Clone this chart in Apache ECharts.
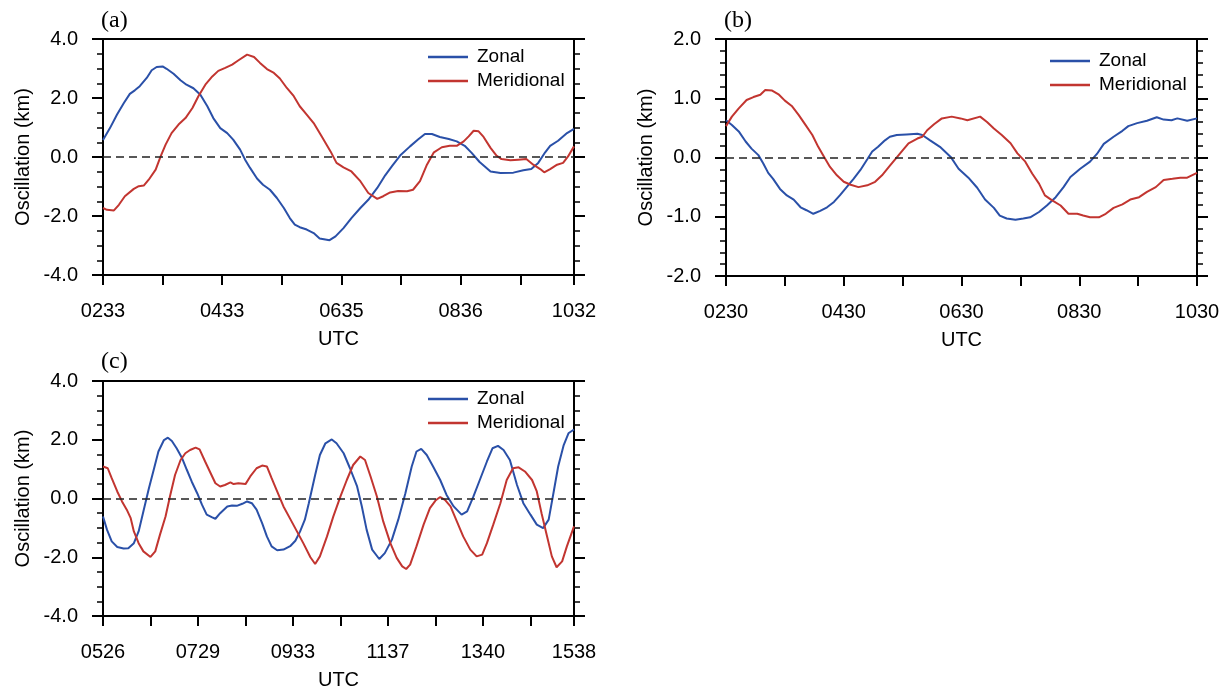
<!DOCTYPE html>
<html><head><meta charset="utf-8">
<script src="https://cdn.jsdelivr.net/npm/echarts@6/dist/echarts.min.js"></script>
<style>html,body{margin:0;padding:0;background:#fff}#c{width:1228px;height:691px}</style>
</head><body><div id="c"></div>
<script>
// ---- Panel (a) ----
const ticksA = [0,60,120,180,240,300,360,420,474];
const labelPosA = [0,120,240,360,474];
const labelTxtA = ['0233','0433','0635','0836','1032'];
const zonalA = [[0,0.58],[7,0.98],[14,1.43],[21,1.83],[27,2.14],[32,2.26],[37,2.40],[44,2.68],[49,2.94],[54,3.05],[60,3.07],[64,2.99],[71,2.82],[78,2.60],[84,2.45],[91,2.33],[98,2.11],[105,1.72],[111,1.32],[118,0.98],[125,0.81],[131,0.59],[138,0.25],[143,-0.09],[148,-0.37],[155,-0.73],[161,-0.94],[168,-1.11],[175,-1.39],[182,-1.73],[188,-2.07],[193,-2.29],[198,-2.38],[205,-2.46],[212,-2.58],[218,-2.76],[228,-2.82],[234,-2.69],[242,-2.41],[250,-2.07],[259,-1.73],[267,-1.45],[276,-1.05],[284,-0.62],[291,-0.30],[299,0.05],[309,0.36],[317,0.59],[324,0.78],[331,0.78],[339,0.68],[348,0.61],[356,0.53],[364,0.38],[371,0.14],[379,-0.17],[390,-0.49],[400,-0.54],[413,-0.53],[423,-0.45],[431,-0.41],[438,-0.20],[445,0.16],[450,0.38],[458,0.55],[467,0.81],[474,0.95]];
const meridA = [[0,-1.73],[4,-1.79],[11,-1.81],[16,-1.62],[22,-1.33],[31,-1.08],[36,-0.99],[41,-0.97],[46,-0.77],[53,-0.43],[58,0.02],[63,0.42],[69,0.81],[76,1.10],[83,1.32],[90,1.66],[96,2.06],[103,2.45],[110,2.73],[116,2.92],[123,3.02],[130,3.13],[136,3.27],[145,3.47],[152,3.39],[158,3.19],[165,2.98],[172,2.85],[178,2.66],[185,2.34],[192,2.06],[198,1.72],[205,1.44],[212,1.15],[220,0.70],[229,0.19],[235,-0.20],[242,-0.35],[250,-0.49],[259,-0.82],[267,-1.22],[276,-1.42],[282,-1.33],[289,-1.20],[297,-1.15],[306,-1.16],[312,-1.11],[319,-0.82],[326,-0.26],[333,0.16],[341,0.33],[349,0.38],[356,0.38],[363,0.53],[368,0.70],[373,0.89],[378,0.87],[383,0.68],[390,0.31],[396,0.05],[401,-0.07],[410,-0.11],[418,-0.09],[426,-0.07],[433,-0.26],[440,-0.41],[444,-0.52],[450,-0.41],[457,-0.26],[463,-0.20],[468,0.02],[474,0.36]];

// ---- Panel (b) ----
const ticksB = [0,60,120,180,240,300,360,420,480];
const labelPosB = [0,120,240,360,480];
const labelTxtB = ['0230','0430','0630','0830','1030'];
const zonalB = [[0,0.63],[6,0.55],[13,0.44],[20,0.27],[26,0.15],[33,0.04],[38,-0.10],[43,-0.26],[48,-0.36],[55,-0.53],[62,-0.64],[69,-0.71],[76,-0.84],[82,-0.89],[89,-0.95],[96,-0.90],[103,-0.84],[110,-0.75],[116,-0.64],[123,-0.50],[130,-0.36],[137,-0.21],[144,-0.03],[149,0.10],[155,0.18],[162,0.29],[167,0.35],[174,0.38],[184,0.39],[195,0.40],[200,0.38],[208,0.29],[218,0.18],[229,0.01],[237,-0.19],[247,-0.34],[256,-0.51],[264,-0.71],[273,-0.85],[279,-0.98],[286,-1.03],[295,-1.05],[303,-1.03],[310,-1.01],[319,-0.92],[327,-0.81],[336,-0.67],[344,-0.50],[351,-0.33],[361,-0.19],[371,-0.07],[378,0.06],[385,0.23],[395,0.35],[404,0.45],[410,0.53],[419,0.58],[429,0.62],[439,0.68],[446,0.64],[454,0.63],[460,0.66],[470,0.62],[480,0.66]];
const meridB = [[0,0.53],[6,0.69],[13,0.83],[21,0.97],[28,1.02],[35,1.06],[40,1.14],[47,1.13],[54,1.06],[60,0.96],[67,0.87],[74,0.72],[81,0.55],[88,0.38],[94,0.18],[100,0.01],[106,-0.16],[113,-0.30],[120,-0.41],[127,-0.46],[135,-0.50],[144,-0.47],[152,-0.41],[159,-0.30],[166,-0.16],[173,-0.02],[180,0.12],[186,0.24],[195,0.32],[200,0.35],[205,0.46],[212,0.56],[220,0.66],[230,0.69],[239,0.66],[246,0.63],[259,0.69],[266,0.60],[273,0.49],[281,0.38],[290,0.24],[297,0.07],[305,-0.07],[312,-0.27],[319,-0.44],[325,-0.64],[332,-0.72],[341,-0.81],[349,-0.95],[358,-0.95],[364,-0.98],[371,-1.01],[380,-1.01],[387,-0.95],[395,-0.85],[404,-0.79],[412,-0.71],[421,-0.67],[429,-0.58],[438,-0.50],[446,-0.38],[455,-0.36],[463,-0.34],[470,-0.34],[480,-0.26]];

// ---- Panel (c) ----
const ticksC = [0,60,120,180,240,300,360,420,480,540,595];
const labelPosC = [0,120,240,360,480,595];
const labelTxtC = ['0526','0729','0933','1137','1340','1538'];
const zonalC = [[0,-0.61],[5,-1.06],[11,-1.46],[18,-1.65],[26,-1.70],[32,-1.69],[39,-1.52],[45,-1.12],[51,-0.44],[58,0.35],[64,0.97],[70,1.60],[77,1.99],[82,2.07],[87,1.96],[93,1.71],[100,1.37],[106,0.97],[112,0.58],[119,0.18],[125,-0.21],[131,-0.55],[138,-0.64],[142,-0.69],[148,-0.50],[157,-0.27],[163,-0.24],[169,-0.25],[176,-0.18],[182,-0.10],[188,-0.16],[194,-0.38],[201,-0.84],[207,-1.29],[213,-1.63],[220,-1.76],[228,-1.74],[237,-1.61],[243,-1.44],[249,-1.12],[255,-0.72],[260,-0.16],[268,0.80],[274,1.48],[281,1.88],[289,2.01],[295,1.88],[304,1.54],[312,1.03],[321,0.41],[327,-0.27],[333,-1.06],[340,-1.74],[349,-2.06],[356,-1.86],[365,-1.40],[373,-0.72],[382,0.18],[390,1.09],[396,1.60],[402,1.69],[409,1.48],[417,1.09],[426,0.63],[434,0.12],[443,-0.27],[453,-0.55],[460,-0.44],[468,0.07],[476,0.63],[485,1.26],[492,1.71],[499,1.79],[506,1.65],[514,1.31],[523,0.46],[531,-0.16],[540,-0.55],[548,-0.89],[556,-1.01],[563,-0.72],[569,0.18],[575,1.09],[582,1.82],[588,2.22],[595,2.35]];
const meridC = [[0,1.09],[6,1.03],[11,0.69],[18,0.24],[24,-0.10],[30,-0.38],[35,-0.67],[39,-1.12],[45,-1.52],[51,-1.80],[60,-1.99],[66,-1.80],[72,-1.23],[79,-0.61],[85,0.12],[91,0.80],[98,1.31],[104,1.54],[110,1.65],[117,1.73],[122,1.67],[129,1.26],[136,0.86],[142,0.52],[148,0.41],[154,0.46],[161,0.55],[165,0.49],[171,0.52],[180,0.49],[186,0.75],[194,1.03],[201,1.12],[207,1.09],[213,0.69],[220,0.24],[228,-0.27],[237,-0.72],[245,-1.12],[253,-1.52],[262,-2.00],[268,-2.23],[274,-1.97],[283,-1.29],[291,-0.61],[300,0.07],[308,0.63],[316,1.14],[325,1.43],[331,1.31],[338,0.75],[346,0.07],[354,-0.78],[363,-1.52],[371,-2.02],[378,-2.31],[383,-2.40],[388,-2.25],[396,-1.63],[405,-0.89],[413,-0.33],[420,-0.07],[426,0.05],[432,-0.05],[439,-0.27],[447,-0.78],[455,-1.29],[464,-1.74],[472,-1.97],[479,-1.91],[485,-1.52],[493,-0.89],[502,-0.16],[510,0.63],[518,1.03],[525,1.06],[533,0.92],[542,0.63],[548,0.24],[554,-0.50],[561,-1.29],[567,-1.97],[573,-2.34],[580,-2.14],[586,-1.63],[595,-0.95]];

const panelLabels = ['(a)','(b)','(c)'];
const seriesNames = ['Zonal','Meridional'];
const yTitle = 'Oscillation (km)';
const xTitle = 'UTC';

const SANS = '"Liberation Sans", Arial, Helvetica, sans-serif';
const SERIF = '"Liberation Serif", "Times New Roman", serif';
const BLUE = '#2a50a8', RED = '#c23530';

const panels = [
  {grid:{left:103, top:39, width:471, height:236}, xmax:474, ticks:ticksA, lpos:labelPosA, ltxt:labelTxtA, ymin:-4, ymax:4, yint:2, minor:4, z:zonalA, m:meridA, legend:{left:428, top:47}, label:{left:101, top:9}},
  {grid:{left:726, top:39, width:471, height:237}, xmax:480, ticks:ticksB, lpos:labelPosB, ltxt:labelTxtB, ymin:-2, ymax:2, yint:1, minor:5, z:zonalB, m:meridB, legend:{left:1050, top:51}, label:{left:724, top:9}},
  {grid:{left:103, top:381, width:471, height:236}, xmax:595, ticks:ticksC, lpos:labelPosC, ltxt:labelTxtC, ymin:-4, ymax:4, yint:2, minor:4, z:zonalC, m:meridC, legend:{left:428, top:389}, label:{left:101, top:350}}
];

const option = {animation:false, backgroundColor:'#fff', grid:[], xAxis:[], yAxis:[], series:[], legend:[], title:[]};
const axisLine = {show:true, onZero:false, lineStyle:{color:'#000', width:2}};
panels.forEach((p, i) => {
  option.grid.push(p.grid);
  const lookup = {};
  p.lpos.forEach((v, k) => lookup[v] = p.ltxt[k]);
  option.xAxis.push({type:'value', gridIndex:i, min:0, max:p.xmax, position:'bottom',
    axisLine, splitLine:{show:false},
    axisTick:{show:true, inside:false, length:10, customValues:p.ticks, lineStyle:{color:'#000', width:2}},
    axisLabel:{show:true, customValues:p.lpos, formatter:v => lookup[v] !== undefined ? lookup[v] : '', color:'#000', fontFamily:SANS, fontSize:20, margin:26},
    name:xTitle, nameLocation:'middle', nameGap:54, nameTextStyle:{color:'#000', fontFamily:SANS, fontSize:20}});
  option.xAxis.push({type:'value', gridIndex:i, min:0, max:p.xmax, position:'top',
    axisLine, splitLine:{show:false}, axisTick:{show:false}, axisLabel:{show:false}});
  option.yAxis.push({type:'value', gridIndex:i, min:p.ymin, max:p.ymax, interval:p.yint, position:'left',
    axisLine, splitLine:{show:false},
    axisTick:{show:true, inside:false, length:11, lineStyle:{color:'#000', width:2}},
    minorTick:{show:true, splitNumber:p.minor, length:6, lineStyle:{color:'#000', width:1.5}},
    axisLabel:{formatter:v => v.toFixed(1), color:'#000', fontFamily:SANS, fontSize:20, margin:25},
    name:yTitle, nameLocation:'middle', nameGap:70, nameTextStyle:{color:'#000', fontFamily:SANS, fontSize:20}});
  option.yAxis.push({type:'value', gridIndex:i, min:p.ymin, max:p.ymax, interval:p.yint, position:'right',
    axisLine, splitLine:{show:false},
    axisTick:{show:true, inside:false, length:11, lineStyle:{color:'#000', width:2}},
    minorTick:{show:true, splitNumber:p.minor, length:6, lineStyle:{color:'#000', width:1.5}},
    axisLabel:{show:false}});
  option.series.push({name:seriesNames[0], type:'line', xAxisIndex:2*i, yAxisIndex:2*i, data:p.z, symbol:'none', smooth:false, z:3,
    lineStyle:{color:BLUE, width:2}, itemStyle:{color:BLUE},
    markLine:{silent:true, symbol:['none','none'], label:{show:false}, data:[{yAxis:0}], lineStyle:{type:[8,5], color:'#222', width:1.5}, emphasis:{disabled:true}}});
  option.series.push({name:seriesNames[1], type:'line', xAxisIndex:2*i, yAxisIndex:2*i, data:p.m, symbol:'none', smooth:false, z:3,
    lineStyle:{color:RED, width:2}, itemStyle:{color:RED}});
  option.legend.push({left:p.legend.left, top:p.legend.top, orient:'vertical', icon:'rect', itemWidth:40, itemHeight:2.5, itemGap:4, padding:0,
    data:seriesNames, textStyle:{color:'#000', fontFamily:SANS, fontSize:19, lineHeight:20, padding:[0,0,0,4]}});
  option.title.push({text:panelLabels[i], left:p.label.left, top:p.label.top, padding:0,
    textStyle:{fontFamily:SERIF, fontSize:24, fontWeight:'normal', color:'#000'}});
});

const chart = echarts.init(document.getElementById('c'), null, {renderer:'canvas'});
chart.setOption(option);
</script>
</body></html>
